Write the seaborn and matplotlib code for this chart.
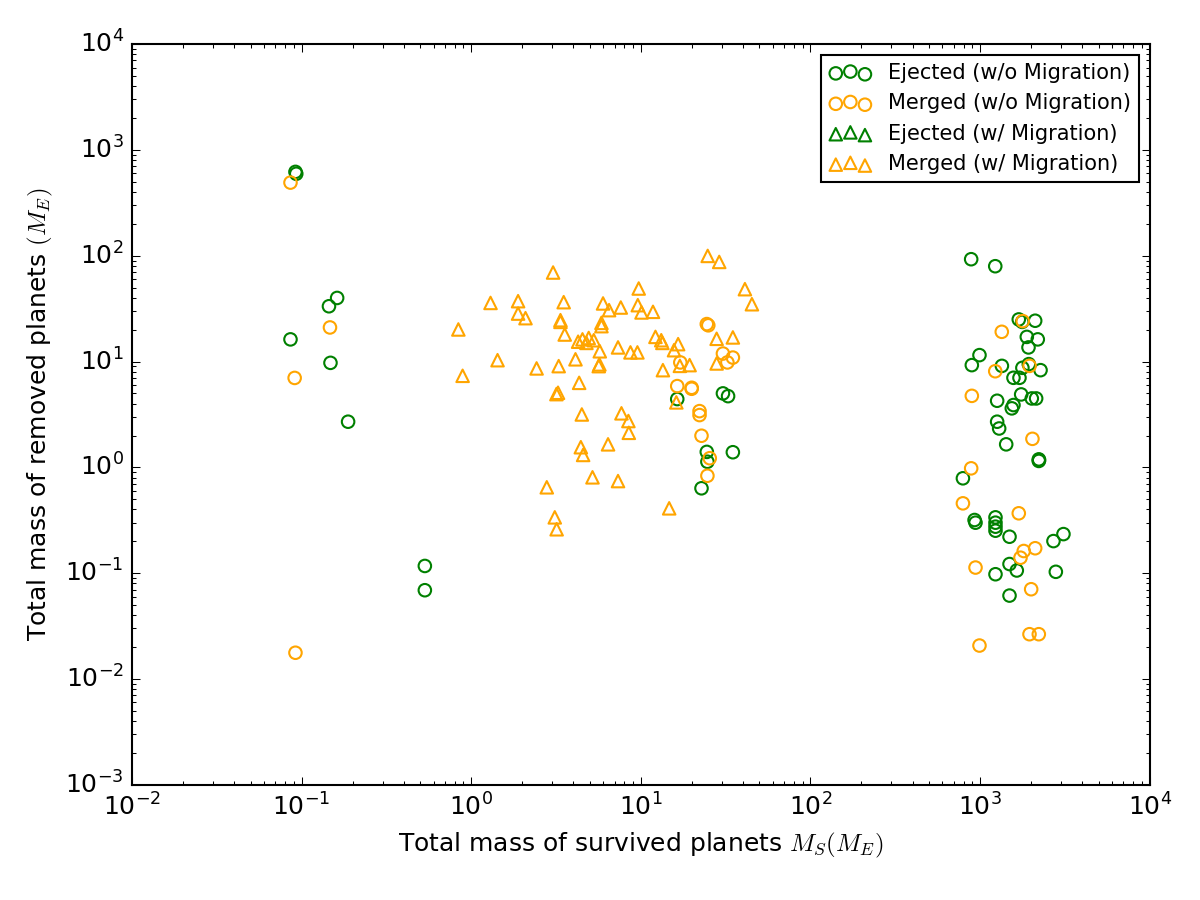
import numpy as np
import pandas as pd
import matplotlib
matplotlib.use("Agg")
import matplotlib.pyplot as plt
import seaborn as sns

# --- Data (Earth masses) ---
# Ejected, without migration (green circles)
ej_nomig_x = [0.092, 0.093, 0.162, 0.145, 0.086, 0.148, 0.188, 0.533, 0.533,
              16.4, 30.5, 32.7, 24.5, 34.9, 24.7, 22.8,
              887, 1230, 1693, 1774, 2115, 1888, 2191, 1932, 993, 895, 1346,
              1940, 1778, 2275, 1575, 1709, 1749, 1262, 2020, 2143, 1575, 1540,
              1262, 1297, 1427, 2222, 2222, 2230, 793, 929, 941, 1234, 1234,
              1234, 1234, 1493, 3105, 2711, 1493, 1648, 1234, 2800, 1493]
ej_nomig_y = [620, 595, 39.9, 33.3, 16.2, 9.72, 2.70, 0.117, 0.069,
              4.42, 5.00, 4.71, 1.40, 1.39, 1.13, 0.634,
              92.7, 79.6, 25.0, 23.7, 24.3, 17.1, 16.2, 13.6, 11.5, 9.25, 9.1,
              9.45, 8.72, 8.29, 7.02, 7.02, 4.89, 4.26, 4.48, 4.48, 3.88, 3.61,
              2.70, 2.33, 1.65, 1.19, 1.15, 1.17, 0.788, 0.318, 0.300, 0.337,
              0.300, 0.275, 0.252, 0.221, 0.234, 0.201, 0.122, 0.106, 0.0977, 0.103, 0.0614]

# Merged, without migration (orange circles)
mg_nomig_x = [0.086, 0.147, 0.091, 0.092, 24.5, 25.0, 17.1, 30.5, 34.9, 32.4,
              16.4, 19.95, 19.95, 22.2, 22.2, 22.8, 25.5, 24.7,
              1344, 1786, 1230, 1960, 895, 2038, 887, 793, 1693, 2115, 1811,
              1733, 941, 2003, 1958, 2222, 993]
mg_nomig_y = [491, 21.0, 7.0, 0.0177, 22.6, 22.0, 9.81, 11.9, 10.9, 9.81,
              5.86, 5.65, 5.53, 3.40, 3.12, 1.99, 1.22, 0.833,
              19.1, 24.1, 8.1, 9.1, 4.74, 1.86, 0.979, 0.457, 0.368, 0.172, 0.162,
              0.140, 0.113, 0.0705, 0.0265, 0.0265, 0.0207]

# Ejected, with migration (green triangles) - none visible in the chart
ej_mig_x = []
ej_mig_y = []

# Merged, with migration (orange triangles)
mg_mig_x = [3.04, 1.30, 1.89, 3.51, 1.89, 2.09, 3.36, 3.36, 0.84, 3.56,
            5.99, 6.5, 7.62, 9.72, 9.6, 10.1, 11.8, 5.86, 5.86,
            4.27, 4.53, 4.93, 5.28, 4.78, 5.73, 7.34, 8.69, 9.55,
            1.43, 2.43, 3.28, 4.12, 5.65, 5.70, 0.89, 4.33, 3.18, 3.25,
            4.49, 7.69, 8.45, 8.5, 4.43, 4.57, 6.41, 5.19, 7.34, 2.79, 3.11, 3.19,
            24.8, 29.0, 41.1, 45.2, 28.0, 34.9, 12.2, 13.2, 13.4, 16.6, 15.7,
            17.0, 19.4, 28.0, 13.5, 16.2, 14.7]
mg_mig_y = [69.4, 35.8, 37.2, 36.4, 28.4, 25.7, 24.6, 23.7, 20.1, 18.0,
            35.4, 30.6, 32.4, 49.0, 34.1, 29.1, 29.5, 23.2, 21.6,
            15.4, 16.2, 16.7, 15.9, 15.0, 12.5, 13.6, 12.2, 12.2,
            10.3, 8.61, 9.05, 10.5, 9.05, 9.4, 7.33, 6.29, 4.92, 5.07,
            3.16, 3.24, 2.74, 2.12, 1.55, 1.31, 1.65, 0.805, 0.742, 0.648, 0.337, 0.260,
            99.6, 87.4, 48.3, 34.8, 16.4, 16.9, 17.1, 15.9, 15.0, 14.6, 12.8,
            9.10, 9.25, 9.59, 8.29, 4.11, 0.410]

# old-school matplotlib look
plt.style.use("classic")
plt.rcParams["font.family"] = ["DejaVu Sans"]

fig, ax = plt.subplots(figsize=(8, 6), dpi=150)
fig.patch.set_facecolor("white")
fig.subplots_adjust(left=0.11, right=0.958, bottom=0.128, top=0.951)

marker_kw = dict(s=36, facecolor="none", linewidth=1.0, ax=ax)

sns.scatterplot(x=ej_nomig_x, y=ej_nomig_y, marker="o", edgecolor="green",
                label="Ejected (w/o Migration)", **marker_kw)
sns.scatterplot(x=mg_nomig_x, y=mg_nomig_y, marker="o", edgecolor="orange",
                label="Merged (w/o Migration)", **marker_kw)
# empty series: only shows up in the legend
ax.scatter(ej_mig_x, ej_mig_y, marker="^", s=36, facecolor="none",
           edgecolor="green", linewidth=1.0, label="Ejected (w/ Migration)")
sns.scatterplot(x=mg_mig_x, y=mg_mig_y, marker="^", edgecolor="orange",
                label="Merged (w/ Migration)", **marker_kw)

ax.set_xscale("log")
ax.set_yscale("log")
ax.set_xlim(1e-2, 1e4)
ax.set_ylim(1e-3, 1e4)

ax.set_xlabel(r"Total mass of survived planets $M_S(M_E)$", fontsize=12)
ax.set_ylabel(r"Total mass of removed planets $(M_E)$", fontsize=12)
ax.tick_params(labelsize=12)

leg = ax.legend(loc="upper right", scatterpoints=3, fontsize=10,
                frameon=True, fancybox=False, borderaxespad=0.5)
leg.get_frame().set_edgecolor("black")

plt.savefig("out.png", dpi=150, facecolor="white")
